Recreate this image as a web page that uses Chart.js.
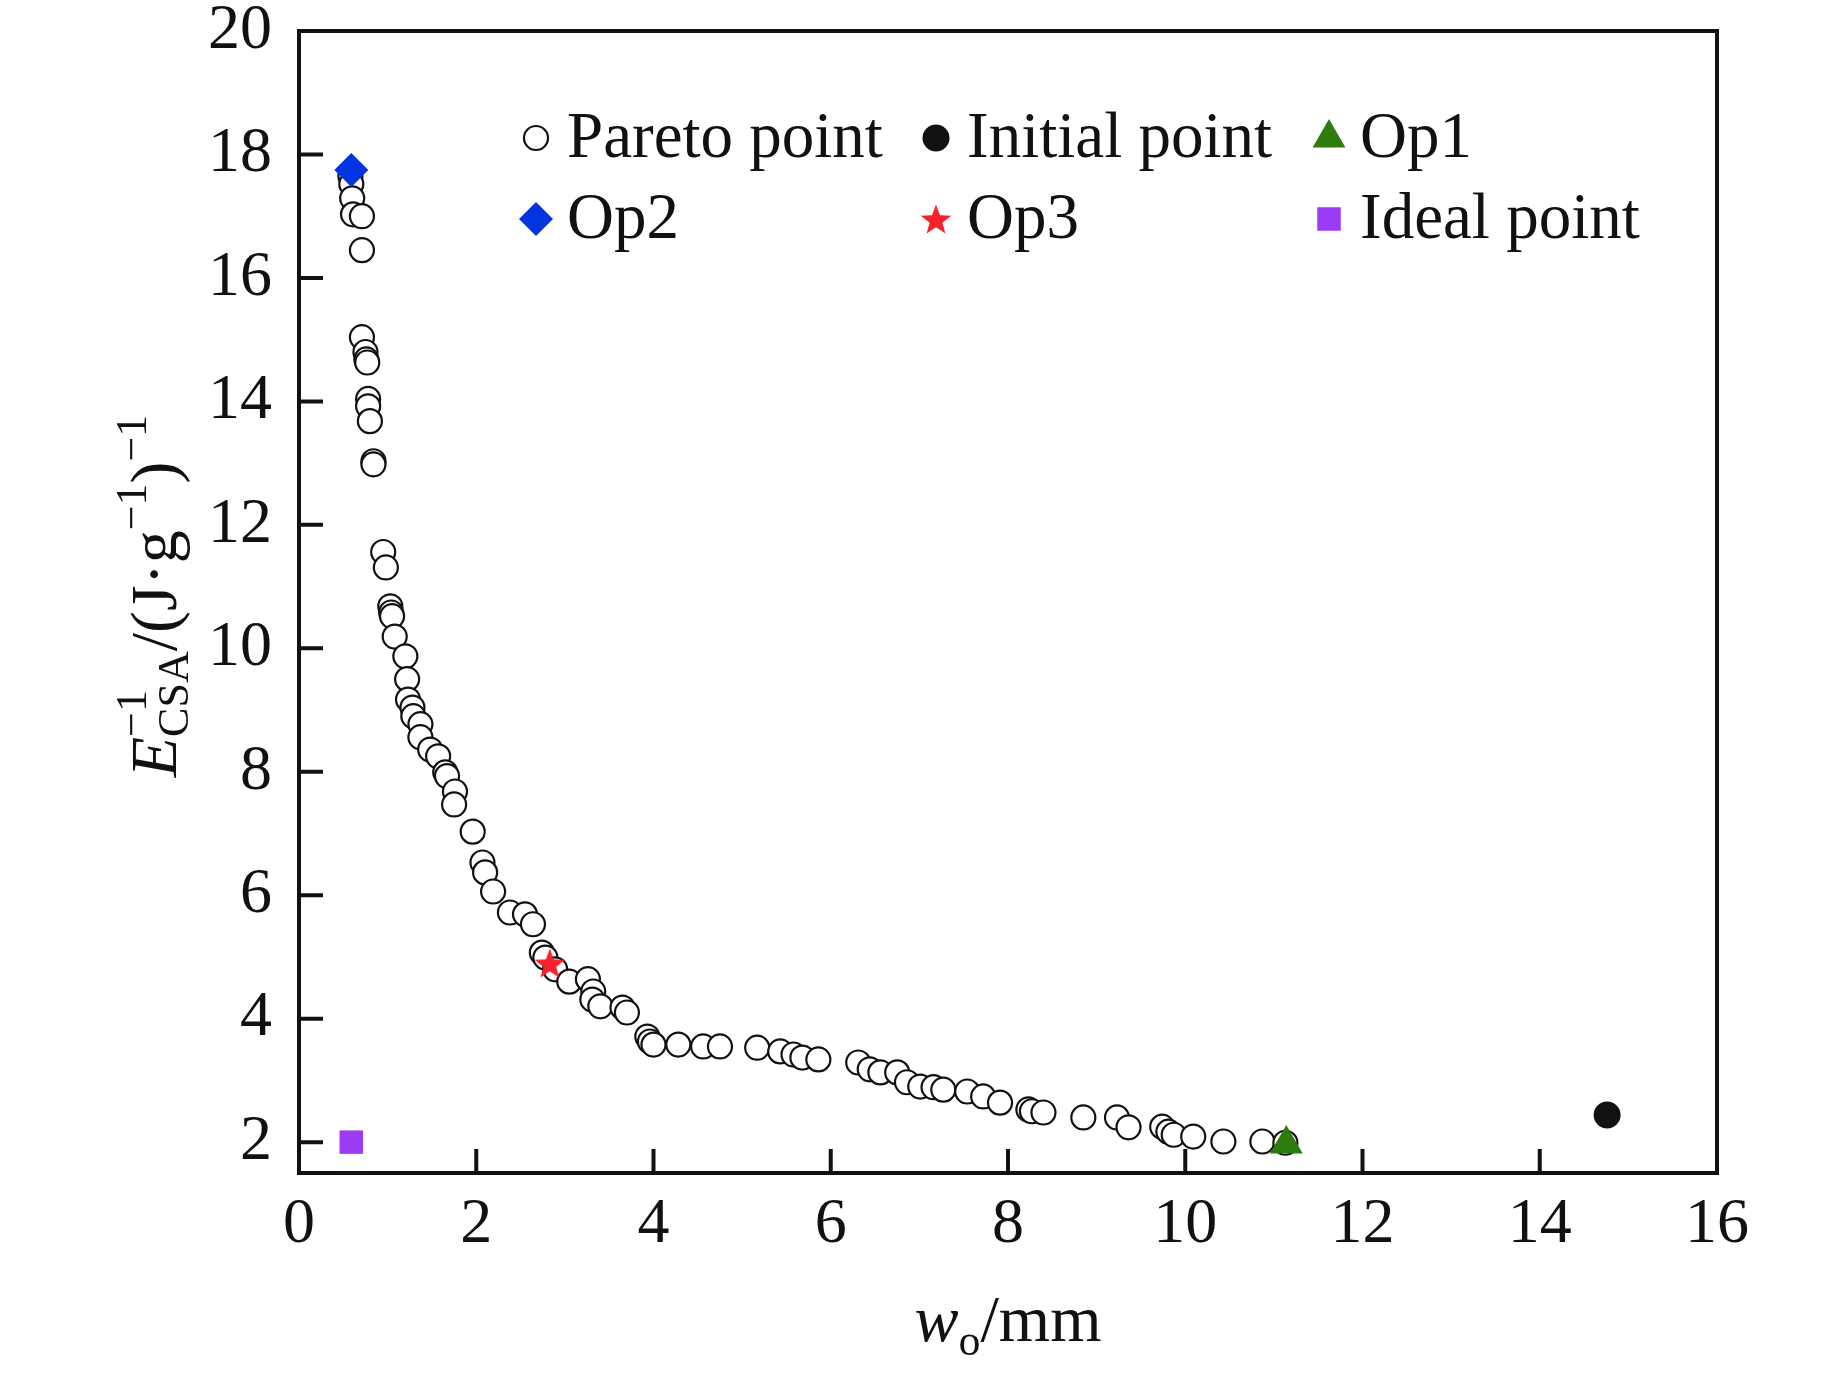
<!DOCTYPE html>
<html>
<head>
<meta charset="utf-8">
<script src="https://cdn.jsdelivr.net/npm/chart.js@4.4.0/dist/chart.umd.min.js"></script>
<style>
  html, body { margin: 0; padding: 0; background: #fff; }
  #wrap { width: 1843px; height: 1375px; position: relative; }
</style>
</head>
<body>
<div id="wrap"><canvas id="grafico"></canvas></div>
<script>
// --- DADOS ---
const paretoX = [
  0.58, 0.59, 0.60, 0.61, 0.71, 0.71, 0.71, 0.75, 0.76, 0.77, 0.78, 0.78, 0.80, 0.84, 0.84,
  0.95, 0.98, 1.03, 1.04, 1.05, 1.08, 1.20, 1.22, 1.23, 1.28, 1.29, 1.37, 1.37, 1.48, 1.57,
  1.65, 1.67, 1.76, 1.75, 1.96, 2.07, 2.10, 2.19, 2.38, 2.55, 2.64, 2.74, 2.78, 2.89, 3.05,
  3.26, 3.32, 3.31, 3.40, 3.65, 3.70, 3.93, 3.96, 4.00, 4.28, 4.56, 4.75, 5.17, 5.43, 5.58,
  5.68, 5.86, 6.31, 6.44, 6.56, 6.75, 6.86, 7.01, 7.16, 7.27, 7.54, 7.72, 7.91, 8.23, 8.27,
  8.40, 8.85, 9.23, 9.36, 9.74, 9.81, 9.87, 10.09, 10.43, 10.87, 11.13
];
const paretoY = [
  17.65, 17.52, 17.29, 17.03, 17.00, 16.45, 15.04, 14.80, 14.68, 14.63, 14.04, 13.92, 13.68, 13.03, 12.98,
  11.56, 11.31, 10.68, 10.58, 10.52, 10.19, 9.87, 9.50, 9.17, 9.04, 8.90, 8.77, 8.56, 8.36, 8.25,
  7.99, 7.93, 7.68, 7.47, 7.03, 6.53, 6.37, 6.06, 5.72, 5.69, 5.53, 5.07, 4.99, 4.80, 4.60,
  4.64, 4.44, 4.31, 4.20, 4.18, 4.10, 3.71, 3.63, 3.58, 3.58, 3.55, 3.55, 3.53, 3.47, 3.42,
  3.37, 3.34, 3.29, 3.18, 3.13, 3.13, 2.97, 2.90, 2.89, 2.85, 2.82, 2.74, 2.64, 2.53, 2.50,
  2.48, 2.40, 2.40, 2.24, 2.25, 2.17, 2.12, 2.09, 2.01, 2.01, 1.99
];
const initialPoint = [14.76, 2.44];
const op1Point = [11.14, 1.97];
const op2Point = [0.59, 17.75];
const op3Point = [2.83, 4.90];
const idealPoint = [0.59, 2.00];

const xTicks = [0, 2, 4, 6, 8, 10, 12, 14, 16];
const yTicks = [2, 4, 6, 8, 10, 12, 14, 16, 18, 20];

const FONTE = 'Liberation Serif';

// --- HELPERS ---

// Estrela de 5 pontas preenchida (o 'star' do Chart.js e só traço)
function criarEstrela(raio, cor) {
    const c = document.createElement('canvas');
    c.width = c.height = Math.ceil(raio * 2) + 2;
    const g = c.getContext('2d');
    const cx = c.width / 2, cy = c.height / 2 + raio * 0.1;
    g.beginPath();
    for (let i = 0; i < 10; i++) {
        const r = i % 2 === 0 ? raio : raio * 0.42;
        const a = -Math.PI / 2 + i * Math.PI / 5;
        g.lineTo(cx + r * Math.cos(a), cy + r * Math.sin(a));
    }
    g.closePath();
    g.fillStyle = cor;
    g.fill();
    return c;
}

function ponto(p) { return [{ x: p[0], y: p[1] }]; }

// Desenha uma sequencia de trechos com fontes e deslocamentos diferentes
function desenharTrechos(ctx, trechos, x, y) {
    const larg = trechos.map(t => {
        const partes = t.pilha || [t];
        return Math.max(...partes.map(p => { ctx.font = p.f; return ctx.measureText(p.t).width; }));
    });
    const total = larg.reduce((a, b) => a + b, 0);
    let cx = x - total / 2;
    trechos.forEach((t, i) => {
        (t.pilha || [t]).forEach(p => {
            ctx.font = p.f;
            ctx.fillText(p.t, cx, y + (p.dy || 0));
        });
        cx += larg[i];
    });
}

const principal = `66px "${FONTE}"`;
const italico = `italic 66px "${FONTE}"`;
const pequeno = `44px "${FONTE}"`;

const tituloY = [
    { t: 'E', f: italico },
    { pilha: [{ t: '\u22121', f: pequeno, dy: -30 }, { t: 'CSA', f: pequeno, dy: 12 }] },
    { t: '/(J\u00b7g', f: principal },
    { t: '\u22121', f: pequeno, dy: -30 },
    { t: ')', f: principal },
    { t: '\u22121', f: pequeno, dy: -30 }
];
const tituloX = [
    { t: 'w', f: italico },
    { t: 'o', f: pequeno, dy: 14 },
    { t: '/mm', f: principal }
];

// --- PLUGINS ---

const molduraPlugin = {
    id: 'moldura',
    afterDraw(chart) {
        const { ctx, chartArea: a, scales: { x, y } } = chart;
        ctx.save();
        ctx.strokeStyle = '#111';
        ctx.lineWidth = 4;
        ctx.strokeRect(a.left, a.top, a.right - a.left, a.bottom - a.top);
        ctx.beginPath();
        xTicks.forEach(v => {
            const px = x.getPixelForValue(v);
            ctx.moveTo(px, a.bottom);
            ctx.lineTo(px, a.bottom - 24);
        });
        yTicks.forEach(v => {
            const py = y.getPixelForValue(v);
            ctx.moveTo(a.left, py);
            ctx.lineTo(a.left + 24, py);
        });
        ctx.stroke();

        // titulos dos eixos
        ctx.fillStyle = '#111';
        ctx.textBaseline = 'alphabetic';
        ctx.textAlign = 'left';
        desenharTrechos(ctx, tituloX, (a.left + a.right) / 2, 1341);
        ctx.save();
        ctx.translate(176, (a.top + a.bottom) / 2 - 6);
        ctx.rotate(-Math.PI / 2);
        desenharTrechos(ctx, tituloY, 0, 0);
        ctx.restore();
        ctx.restore();
    }
};

// Legenda em grade 3x2, como na figura
const legendaPlugin = {
    id: 'legendaGrade',
    afterDraw(chart) {
        const { ctx } = chart;
        const colX = [536, 936, 1329];
        const linY = [138, 219];
        ctx.save();
        chart.data.datasets.forEach((ds, i) => {
            const cx = colX[i % 3], cy = linY[Math.floor(i / 3)];
            ctx.fillStyle = ds.pointBackgroundColor;
            ctx.strokeStyle = ds.pointBorderColor;
            ctx.lineWidth = ds.pointBorderWidth;
            Chart.helpers.drawPoint(ctx, {
                pointStyle: ds.pointStyle,
                rotation: 0,
                radius: ds.pointRadius,
                borderWidth: ds.pointBorderWidth
            }, cx, cy);
            ctx.fillStyle = '#111';
            ctx.font = `65px "${FONTE}"`;
            ctx.textBaseline = 'alphabetic';
            ctx.textAlign = 'left';
            ctx.fillText(ds.label, cx + 31, cy + 19);
        });
        ctx.restore();
    }
};

// --- GRAFICO ---

const estrela = criarEstrela(16, '#F5212B');

new Chart(document.getElementById('grafico'), {
    type: 'scatter',
    data: {
        datasets: [
            {
                label: 'Pareto point',
                data: paretoX.map((x, i) => ({ x, y: paretoY[i] })),
                pointStyle: 'circle', pointRadius: 12, pointBorderWidth: 2.2,
                pointBackgroundColor: '#fff', pointBorderColor: '#111', order: 1
            },
            {
                label: 'Initial point', data: ponto(initialPoint),
                pointStyle: 'circle', pointRadius: 13.5, pointBorderWidth: 0,
                pointBackgroundColor: '#111', pointBorderColor: '#111', order: 0
            },
            {
                label: 'Op1', data: ponto(op1Point),
                pointStyle: 'triangle', pointRadius: 19, pointBorderWidth: 0,
                pointBackgroundColor: '#2E7B0E', pointBorderColor: '#2E7B0E', order: 0
            },
            {
                label: 'Op2', data: ponto(op2Point),
                pointStyle: 'rectRot', pointRadius: 17, pointBorderWidth: 0,
                pointBackgroundColor: '#0433E0', pointBorderColor: '#0433E0', order: 0
            },
            {
                label: 'Op3', data: ponto(op3Point),
                pointStyle: estrela, pointRadius: 16, pointBorderWidth: 0,
                pointBackgroundColor: '#F5212B', pointBorderColor: '#F5212B', order: 0
            },
            {
                label: 'Ideal point', data: ponto(idealPoint),
                pointStyle: 'rect', pointRadius: 16.6, pointBorderWidth: 0,
                pointBackgroundColor: '#9B3BF6', pointBorderColor: '#9B3BF6', order: 0
            }
        ]
    },
    options: {
        responsive: true,
        maintainAspectRatio: false,
        devicePixelRatio: 1,
        animation: false,
        events: [],
        clip: false,
        layout: { padding: { left: 0, right: 126, top: 31, bottom: 0 } },
        plugins: { legend: { display: false }, tooltip: { enabled: false } },
        scales: {
            x: {
                type: 'linear', min: 0, max: 16,
                afterBuildTicks: s => { s.ticks = xTicks.map(v => ({ value: v })); },
                afterFit: s => { s.height = 202; },
                grid: { display: false, drawTicks: false },
                border: { display: false },
                ticks: { padding: 14, color: '#111', maxRotation: 0, autoSkip: false, font: { family: FONTE, size: 64 } }
            },
            y: {
                type: 'linear', min: 1.5, max: 20,
                afterBuildTicks: s => { s.ticks = yTicks.map(v => ({ value: v })); },
                afterFit: s => { s.width = 299; },
                grid: { display: false, drawTicks: false },
                border: { display: false },
                // lineHeight pequeno: evita que o rotulo "20" empurre a area do grafico para baixo
                ticks: { padding: 27, color: '#111', autoSkip: false, font: { family: FONTE, size: 64, lineHeight: 0.1 } }
            }
        }
    },
    plugins: [molduraPlugin, legendaPlugin]
});
</script>
</body>
</html>
